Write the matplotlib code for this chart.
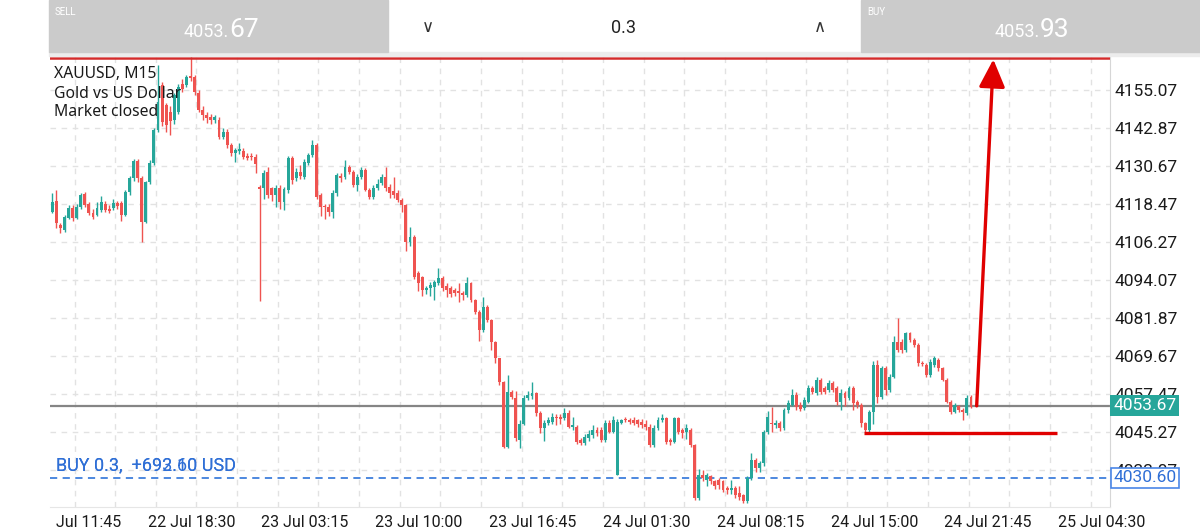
import numpy as np
import matplotlib
matplotlib.use("Agg")
import matplotlib.pyplot as plt
from matplotlib.patches import Rectangle

# ---- XAUUSD M15 candles ----
opens = [
    4115.9, 4119.4, 4111.7, 4110.1, 4114.0, 4117.2, 4114.0, 4117.6, 4121.7, 4118.5,
    4115.6, 4115.0, 4116.5, 4118.5, 4117.0, 4117.2, 4118.8, 4118.8, 4115.0, 4122.4,
    4126.8, 4132.3, 4126.9, 4112.8, 4125.6, 4131.6, 4142.2, 4156.7, 4150.2, 4148.0,
    4145.4, 4148.1, 4157.0, 4156.7, 4159.5, 4159.3, 4154.0, 4148.7, 4147.0, 4146.5,
    4145.5, 4145.4, 4140.1, 4141.7, 4137.4, 4134.8, 4135.4, 4135.6, 4134.0, 4134.0,
    4133.7, 4124.0, 4123.6, 4128.8, 4123.6, 4121.4, 4123.6, 4119.2, 4123.0, 4133.2,
    4126.8, 4128.8, 4127.2, 4131.6, 4134.2, 4137.4, 4121.4, 4117.8, 4117.6, 4116.0,
    4122.0, 4127.6, 4127.2, 4130.4, 4128.8, 4124.6, 4127.2, 4129.4, 4123.0, 4120.8,
    4123.5, 4125.2, 4127.2, 4124.0, 4122.5, 4122.0, 4119.8, 4118.2, 4106.4, 4108.0,
    4096.3, 4095.1, 4090.9, 4091.5, 4091.9, 4093.1, 4094.7, 4092.0, 4091.4, 4091.0,
    4090.5, 4090.0, 4089.3, 4093.1, 4087.7, 4083.9, 4078.0, 4085.5, 4081.2, 4074.3,
    4068.9, 4061.4, 4040.6, 4058.2, 4056.1, 4042.8, 4048.0, 4056.1, 4056.8, 4057.7,
    4051.3, 4046.5, 4048.1, 4048.6, 4050.2, 4050.2, 4049.7, 4051.3, 4047.0, 4047.0,
    4042.7, 4041.7, 4043.3, 4044.3, 4046.0, 4046.0, 4042.7, 4048.1, 4045.4, 4031.5,
    4048.3, 4049.5, 4049.2, 4049.2, 4049.0, 4048.6, 4048.0, 4047.0, 4041.1, 4046.5,
    4049.2, 4049.7, 4042.7, 4042.2, 4049.7, 4045.8, 4045.4, 4046.0, 4041.1, 4024.0,
    4031.5, 4029.9, 4031.0, 4029.4, 4029.9, 4029.4, 4027.2, 4026.7, 4027.2, 4025.6,
    4025.1, 4023.0, 4030.4, 4036.3, 4033.6, 4035.2, 4045.4, 4048.3, 4047.5, 4048.1,
    4046.5, 4052.3, 4054.0, 4057.2, 4054.0, 4052.9, 4055.0, 4059.3, 4057.7, 4062.0,
    4059.3, 4058.8, 4060.9, 4059.3, 4055.0, 4057.7, 4056.1, 4059.3, 4055.0, 4054.0,
    4048.1, 4045.9, 4051.8, 4066.8, 4056.6, 4065.7, 4058.8, 4063.0, 4074.3, 4074.3,
    4071.6, 4077.0, 4074.8, 4073.2, 4067.5, 4066.8, 4063.6, 4066.8, 4068.4, 4065.7,
    4062.0, 4055.0, 4051.8, 4053.5, 4052.5, 4051.3, 4056.6,
]
highs = [
    4122.0, 4123.0, 4112.5, 4115.0, 4118.0, 4118.0, 4118.5, 4122.0, 4122.3, 4119.0,
    4117.0, 4119.0, 4121.0, 4119.5, 4118.0, 4120.0, 4119.5, 4119.5, 4123.0, 4127.5,
    4133.0, 4133.0, 4127.5, 4126.0, 4132.5, 4143.0, 4163.0, 4157.5, 4151.0, 4150.0,
    4154.0, 4157.0, 4158.5, 4160.0, 4166.0, 4160.0, 4155.0, 4150.0, 4148.0, 4147.5,
    4147.0, 4146.5, 4143.0, 4142.5, 4138.0, 4136.5, 4138.0, 4136.5, 4135.0, 4135.0,
    4134.5, 4124.5, 4129.5, 4130.5, 4124.0, 4124.5, 4124.5, 4124.0, 4134.0, 4134.0,
    4130.0, 4131.0, 4133.0, 4135.0, 4139.0, 4138.0, 4122.0, 4118.5, 4118.5, 4123.0,
    4128.5, 4128.5, 4132.5, 4131.0, 4129.5, 4128.0, 4130.5, 4130.0, 4123.5, 4124.5,
    4126.5, 4128.0, 4130.5, 4125.0, 4127.0, 4123.0, 4120.5, 4118.5, 4111.0, 4108.5,
    4097.0, 4095.5, 4092.0, 4093.5, 4094.0, 4098.0, 4095.5, 4093.0, 4092.0, 4091.5,
    4093.0, 4090.5, 4095.0, 4093.5, 4088.0, 4084.5, 4088.5, 4086.0, 4081.5, 4074.5,
    4069.0, 4061.8, 4063.5, 4058.7, 4058.5, 4049.0, 4057.0, 4058.5, 4061.4, 4058.0,
    4052.0, 4049.0, 4050.0, 4051.5, 4051.0, 4051.0, 4053.0, 4052.5, 4050.0, 4047.5,
    4043.5, 4044.5, 4046.0, 4047.5, 4047.0, 4047.0, 4049.0, 4049.0, 4050.5, 4049.5,
    4049.5, 4050.0, 4049.8, 4050.0, 4049.5, 4049.5, 4049.0, 4048.0, 4047.5, 4050.0,
    4051.0, 4050.2, 4043.5, 4050.2, 4050.2, 4046.5, 4048.0, 4046.5, 4041.5, 4033.5,
    4033.0, 4032.0, 4031.5, 4030.0, 4030.5, 4030.0, 4027.8, 4030.0, 4028.0, 4028.0,
    4025.5, 4031.0, 4038.5, 4037.0, 4036.0, 4046.0, 4052.0, 4053.4, 4049.0, 4048.8,
    4053.0, 4055.5, 4059.0, 4058.0, 4054.8, 4056.5, 4060.5, 4060.0, 4063.0, 4062.5,
    4060.0, 4062.0, 4061.5, 4060.0, 4059.0, 4058.5, 4060.0, 4060.0, 4055.5, 4054.5,
    4048.5, 4052.5, 4068.0, 4068.5, 4066.5, 4066.5, 4064.0, 4076.0, 4081.8, 4075.0,
    4077.5, 4077.5, 4075.5, 4073.8, 4068.0, 4067.5, 4068.8, 4069.8, 4069.0, 4066.2,
    4062.5, 4055.5, 4054.5, 4054.0, 4053.0, 4057.0, 4057.0,
]
lows = [
    4115.5, 4110.8, 4109.2, 4109.5, 4113.5, 4113.0, 4113.5, 4117.0, 4117.5, 4115.0,
    4113.5, 4114.5, 4116.0, 4116.0, 4115.5, 4116.5, 4117.0, 4113.0, 4114.5, 4121.5,
    4126.0, 4125.5, 4106.4, 4112.5, 4125.0, 4131.0, 4141.5, 4143.5, 4141.5, 4140.5,
    4144.0, 4147.5, 4154.5, 4156.0, 4158.0, 4153.5, 4148.0, 4145.5, 4144.5, 4144.0,
    4144.5, 4139.5, 4139.5, 4136.5, 4134.0, 4132.0, 4134.5, 4133.0, 4132.5, 4132.5,
    4128.5, 4087.3, 4120.0, 4120.5, 4119.5, 4117.5, 4117.0, 4116.5, 4122.0, 4125.0,
    4126.0, 4126.5, 4126.5, 4131.0, 4133.5, 4120.0, 4114.5, 4113.5, 4114.5, 4114.0,
    4121.0, 4125.5, 4126.5, 4128.0, 4124.0, 4122.5, 4126.5, 4122.5, 4120.0, 4120.0,
    4123.0, 4124.5, 4122.5, 4120.5, 4120.5, 4119.0, 4116.0, 4103.5, 4105.0, 4094.5,
    4090.5, 4089.0, 4089.5, 4089.0, 4087.5, 4092.5, 4090.5, 4088.5, 4088.5, 4089.0,
    4087.0, 4087.5, 4088.5, 4087.0, 4083.0, 4074.5, 4077.5, 4080.5, 4071.5, 4067.5,
    4060.5, 4040.3, 4040.3, 4056.0, 4042.5, 4040.0, 4047.5, 4055.5, 4056.0, 4050.5,
    4045.0, 4042.5, 4047.5, 4048.0, 4047.5, 4048.0, 4049.0, 4046.5, 4046.0, 4041.5,
    4041.0, 4041.0, 4042.5, 4043.5, 4044.0, 4042.0, 4042.0, 4045.0, 4045.0, 4031.5,
    4048.0, 4048.5, 4048.0, 4047.5, 4047.0, 4046.5, 4046.0, 4040.5, 4040.5, 4046.0,
    4048.5, 4041.5, 4041.0, 4041.8, 4044.5, 4043.5, 4043.0, 4040.5, 4023.5, 4023.5,
    4029.5, 4028.0, 4028.5, 4027.0, 4027.0, 4026.0, 4025.5, 4025.5, 4024.0, 4023.5,
    4022.5, 4022.5, 4030.0, 4032.5, 4032.5, 4034.5, 4044.5, 4045.4, 4046.5, 4045.5,
    4046.0, 4051.5, 4053.5, 4052.5, 4052.0, 4052.3, 4054.5, 4057.5, 4057.0, 4057.5,
    4057.5, 4058.0, 4058.0, 4054.0, 4052.5, 4053.5, 4055.5, 4052.5, 4053.0, 4047.0,
    4045.3, 4045.3, 4048.0, 4054.5, 4056.0, 4057.0, 4058.0, 4062.5, 4071.0, 4070.5,
    4071.0, 4074.2, 4072.5, 4066.5, 4066.5, 4063.0, 4063.0, 4066.3, 4065.0, 4061.5,
    4054.5, 4051.0, 4051.3, 4051.8, 4049.2, 4050.8, 4053.0,
]
closes = [
    4119.1, 4112.4, 4110.8, 4114.4, 4117.2, 4114.0, 4117.6, 4121.4, 4118.2, 4115.6,
    4114.4, 4117.2, 4119.2, 4116.5, 4116.2, 4118.8, 4117.8, 4115.0, 4122.4, 4126.8,
    4132.3, 4126.8, 4112.8, 4125.6, 4131.6, 4142.2, 4151.3, 4144.9, 4143.8, 4145.0,
    4153.5, 4156.1, 4155.5, 4159.3, 4159.0, 4154.5, 4148.7, 4147.0, 4146.0, 4145.5,
    4146.5, 4140.1, 4141.7, 4137.4, 4134.8, 4135.8, 4136.2, 4133.7, 4133.2, 4133.5,
    4131.4, 4123.4, 4128.4, 4121.4, 4121.4, 4123.6, 4119.2, 4123.2, 4133.2, 4126.2,
    4128.8, 4127.5, 4132.0, 4134.2, 4137.4, 4120.8, 4117.6, 4117.4, 4116.0, 4122.0,
    4127.8, 4126.8, 4130.4, 4128.8, 4124.6, 4127.2, 4129.4, 4123.0, 4120.8, 4123.5,
    4125.0, 4127.2, 4123.5, 4122.0, 4121.5, 4119.8, 4118.2, 4106.4, 4108.0, 4095.1,
    4093.1, 4090.9, 4091.6, 4092.5, 4093.5, 4094.7, 4091.5, 4090.9, 4089.6, 4090.0,
    4090.0, 4089.2, 4093.1, 4087.7, 4083.9, 4078.0, 4085.5, 4081.2, 4074.3, 4068.9,
    4061.4, 4040.6, 4058.2, 4056.5, 4043.2, 4048.0, 4056.1, 4057.2, 4057.7, 4051.3,
    4046.5, 4048.1, 4049.2, 4050.2, 4049.7, 4049.4, 4051.3, 4047.0, 4047.6, 4042.2,
    4041.7, 4043.8, 4044.6, 4046.0, 4045.0, 4042.7, 4048.1, 4045.4, 4049.2, 4048.6,
    4049.0, 4049.0, 4048.6, 4048.3, 4048.0, 4047.6, 4047.0, 4041.1, 4046.5, 4049.2,
    4049.7, 4042.2, 4042.2, 4049.7, 4045.4, 4044.8, 4046.5, 4041.1, 4024.0, 4031.5,
    4030.4, 4031.5, 4029.4, 4027.8, 4028.3, 4026.7, 4026.7, 4027.2, 4025.1, 4024.5,
    4023.0, 4030.4, 4036.3, 4033.6, 4035.2, 4045.4, 4050.2, 4047.8, 4048.3, 4046.5,
    4052.3, 4054.5, 4057.2, 4053.4, 4052.6, 4055.6, 4059.3, 4058.2, 4062.0, 4058.2,
    4058.2, 4060.9, 4058.8, 4055.0, 4057.7, 4056.1, 4059.3, 4054.5, 4054.0, 4048.1,
    4045.9, 4051.8, 4066.8, 4056.6, 4065.7, 4058.8, 4063.0, 4074.3, 4071.6, 4071.6,
    4077.0, 4074.8, 4073.2, 4067.3, 4067.0, 4063.6, 4067.9, 4068.9, 4065.7, 4062.0,
    4055.0, 4051.8, 4054.0, 4052.3, 4051.8, 4056.1, 4053.4,
]

price_ticks = [4155.07, 4142.87, 4130.67, 4118.47, 4106.27, 4094.07,
               4081.87, 4069.67, 4057.47, 4045.27, 4033.07]
date_labels = ["Jul 11:45", "22 Jul 18:30", "23 Jul 03:15", "23 Jul 10:00",
               "23 Jul 16:45", "24 Jul 01:30", "24 Jul 08:15", "24 Jul 15:00",
               "24 Jul 21:45", "25 Jul 04:30"]

sell_whole, sell_pips = "4053.", "67"
buy_whole, buy_pips = "4053.", "93"
sell_price = 4053.67
lot_size = "0.3"
position_price = 4030.60
position_text = "BUY 0.3,  +693.60 USD"
position_text_old = "BUY 0.3,  +692.10 USD"
info_lines = ["XAUUSD, M15", "Gold vs US Dollar", "Market closed"]

# hand-drawn marks on the screenshot (bar index, price)
top_line_price = 4165.44
support_price = 4044.86
support_bars = [199.7, 247.2]
arrow_start = (227.4, 4053.67)
arrow_end = (231.5, 4164.9)

GREEN = "#26a69a"
RED = "#ef5350"
W, H = 1200, 532


def fx(px):
    return px / W


def fy(py):
    return 1 - py / H


plt.rcParams["font.family"] = ["Roboto", "DejaVu Sans"]

fig = plt.figure(figsize=(12, 5.32), dpi=100)
ax = fig.add_axes([fx(50), fy(507), (1110 - 50) / W, (507 - 52) / H])

o = np.array(opens)
h = np.array(highs)
l = np.array(lows)
c = np.array(closes)
idx = np.arange(len(o))
cols = np.where(c >= o, GREEN, RED)

ax.vlines(idx, l, h, colors=cols, lw=1, zorder=3)
body_bot = np.minimum(o, c)
body_h = np.maximum(np.abs(c - o), 0.35)
ax.bar(idx, body_h, bottom=body_bot, width=0.72, color=cols, lw=0, zorder=4)

ax.set_xlim(-0.57, 260.2)
ax.set_ylim(4021.2, 4167.27)

# grid
ax.set_yticks(price_ticks)
ax.set_yticklabels([f"{p:.2f}" for p in price_ticks])
ax.yaxis.tick_right()
ax.set_xticks([9.0] + [6.2 + 28 * k for k in range(1, 10)])
ax.set_xticklabels(date_labels)
ax.set_xticks([5.46 + 10 * k for k in range(26)], minor=True)
ax.grid(which="major", axis="y", color="#e2e2e2", ls=(0, (4, 4)), lw=1)
ax.grid(which="minor", axis="x", color="#e2e2e2", ls=(0, (4, 4)), lw=1)
ax.tick_params(axis="y", length=0, pad=3, labelsize=12.5, labelcolor="#1a1a1a")
ax.tick_params(axis="x", which="major", length=0, pad=6, labelsize=11.5,
               labelcolor="#1a1a1a")
ax.tick_params(axis="x", which="minor", length=0)
for s in ["left", "top"]:
    ax.spines[s].set_visible(False)
ax.spines["right"].set_color("#d6d6d6")
ax.spines["bottom"].set_color("#e6e6e6")

# price lines
ax.axhline(sell_price, color="#858585", lw=1.6, zorder=2)
ax.axhline(position_price, color="#3f7fdc", lw=1.3, ls=(0, (4, 3)), zorder=2)
ax.axhline(top_line_price, color="#d42a2a", lw=1.8, zorder=5)

ax.text(0.006, position_price + 1.0, position_text_old, transform=ax.get_yaxis_transform(),
        va="bottom", ha="left", fontsize=13, color="#2f6fd6", zorder=6)
ax.text(0.006, position_price + 1.0, position_text, transform=ax.get_yaxis_transform(),
        va="bottom", ha="left", fontsize=13, color="#2f6fd6", zorder=6)

ax.text(1.003, sell_price, f"{sell_price:.2f}", transform=ax.get_yaxis_transform(),
        va="center", ha="left", fontsize=12.5, color="white", clip_on=False, zorder=10,
        bbox=dict(boxstyle="square,pad=0.18", fc=GREEN, ec="none"))
ax.text(1.003, position_price, f"{position_price:.2f}", transform=ax.get_yaxis_transform(),
        va="center", ha="left", fontsize=12.5, color="#2f6fd6", clip_on=False, zorder=10,
        bbox=dict(boxstyle="square,pad=0.15", fc="white", ec="#4a86e8", lw=1.2))

# red annotations
ax.plot(support_bars, [support_price, support_price], color="#e00000", lw=2.4,
        solid_capstyle="butt", zorder=7)
ax.annotate("", xy=arrow_end, xytext=arrow_start, zorder=8,
            arrowprops=dict(arrowstyle="-|>,head_length=1.7,head_width=0.8",
                            mutation_scale=10, color="#e00000", lw=2.4,
                            shrinkA=0, shrinkB=0))

# symbol info
for k, line in enumerate(info_lines):
    fig.text(fx(54), fy(74.5 + 19 * k), line, fontsize=11.3, va="center", ha="left",
             color="#1a1a1a", family=["Noto Sans", "DejaVu Sans"])

# top trade bar
fig.patches.append(Rectangle((fx(49), fy(56)), (1200 - 49) / W, 4 / H,
                             transform=fig.transFigure, color="#ececec"))
fig.patches.append(Rectangle((fx(49), fy(52)), (388 - 49) / W, 52 / H,
                             transform=fig.transFigure, color="#cbcbcb"))
fig.patches.append(Rectangle((fx(861), fy(52)), (1200 - 861) / W, 52 / H,
                             transform=fig.transFigure, color="#cbcbcb"))
fig.text(fx(55), fy(12), "SELL", fontsize=7, color="white", va="center")
fig.text(fx(229), fy(37), sell_whole, fontsize=13, color="white", ha="right", va="baseline")
fig.text(fx(229), fy(37), sell_pips, fontsize=19, color="white", ha="left", va="baseline")
fig.text(fx(867), fy(12), "BUY", fontsize=7, color="white", va="center")
fig.text(fx(1040), fy(37), buy_whole, fontsize=13, color="white", ha="right", va="baseline")
fig.text(fx(1040), fy(37), buy_pips, fontsize=19, color="white", ha="left", va="baseline")
fig.text(fx(624), fy(28), lot_size, fontsize=13, color="#222222", ha="center", va="center")
fig.text(fx(428), fy(27), "∨", fontsize=12, color="#333333", ha="center", va="center",
         family=["DejaVu Sans"])
fig.text(fx(820), fy(27), "∧", fontsize=12, color="#333333", ha="center", va="center",
         family=["DejaVu Sans"])

fig.savefig("out.png", dpi=100)
